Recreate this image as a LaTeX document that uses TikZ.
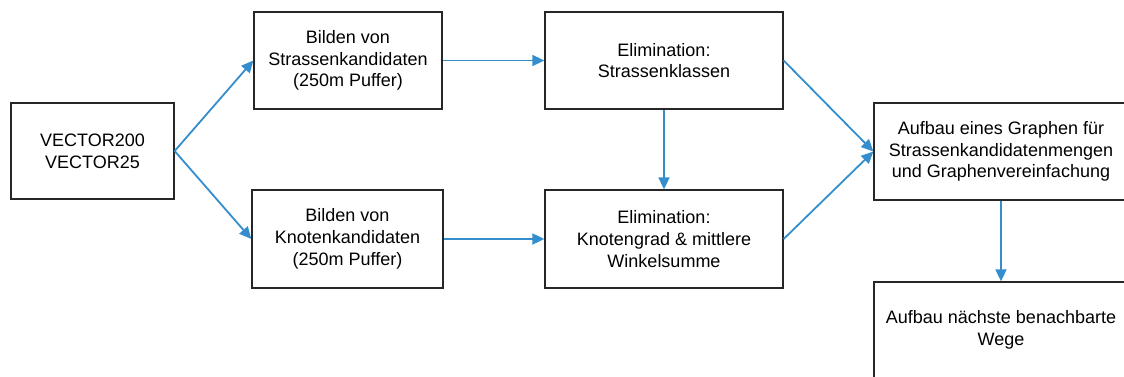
\documentclass[tikz,border=0pt]{standalone}
\usepackage{fontspec}
\setmainfont{Liberation Sans}
\usetikzlibrary{arrows.meta}
\definecolor{arrowblue}{RGB}{52,142,206}
\begin{document}
\begin{tikzpicture}[x=1pt,y=-1pt,
  box/.style={draw=black!85, line width=1.3pt, inner sep=0pt, align=center,
    font=\fontsize{18}{21.7}\selectfont},
  conn/.style={draw=arrowblue, line width=1.8pt, -{Triangle[length=12pt,width=11pt]}}]
\useasboundingbox (0,0) rectangle (1124,376);
\clip (0,0) rectangle (1124,376);
\node[box, minimum width=163pt, minimum height=96pt] (v) at (92.5,151) {VECTOR200\\VECTOR25};
\node[box, minimum width=188pt, minimum height=97pt] (bs) at (348,60.5) {Bilden von\\Strassenkandidaten\\(250m Puffer)};
\node[box, minimum width=191pt, minimum height=98pt] (bk) at (347.5,239) {Bilden von\\Knotenkandidaten\\(250m Puffer)};
\node[box, minimum width=238pt, minimum height=97pt] (es) at (664,60.5) {Elimination:\\Strassenklassen};
\node[box, minimum width=238pt, minimum height=98pt] (ek) at (664,239) {Elimination:\\Knotengrad \& mittlere\\Winkelsumme};
\node[box, minimum width=254pt, minimum height=97pt] (ag) at (1001,151.5) {Aufbau eines Graphen für\\Strassenkandidatenmengen\\und Graphenvereinfachung};
\node[box, minimum width=254pt, minimum height=96pt] (an) at (1001,330) {Aufbau nächste benachbarte\\Wege};
\draw[conn] (v.east) -- (bs.west);
\draw[conn] (v.east) -- (bk.west);
\draw[conn] (bs.east) -- (es.west);
\draw[conn] (bk.east) -- (ek.west);
\draw[conn] (es.south) -- (ek.north);
\draw[conn] (es.east) -- (ag.west);
\draw[conn] (ek.east) -- (ag.west);
\draw[conn] (ag.south) -- (an.north);
\end{tikzpicture}
\end{document}
